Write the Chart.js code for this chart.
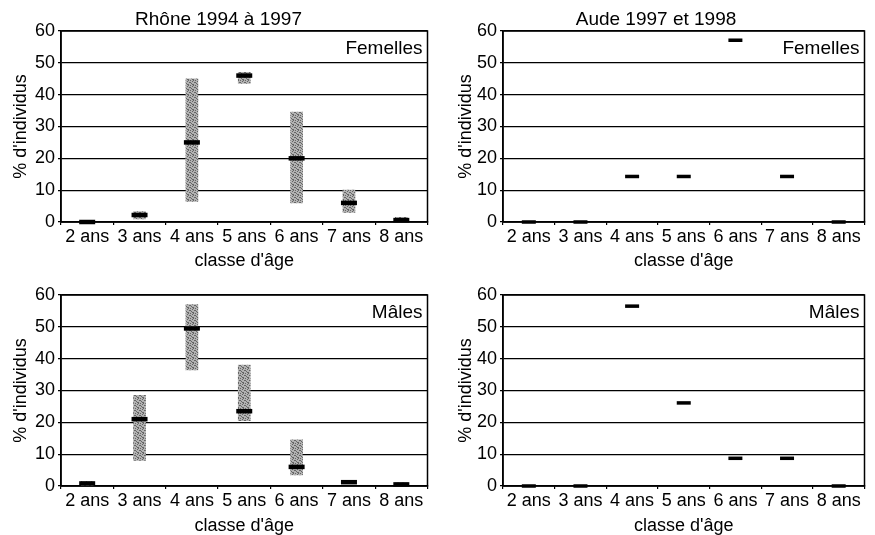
<!DOCTYPE html>
<html>
<head>
<meta charset="utf-8">
<script src="https://cdn.jsdelivr.net/npm/chart.js@4.4.1/dist/chart.umd.min.js"></script>
<style>
    html, body { margin: 0; padding: 0; background: #fff; }
    #wrap { position: relative; width: 875px; height: 535px; overflow: hidden; }
    canvas { position: absolute; }
</style>
</head>
<body>
<div id="wrap">
    <canvas id="rhoneFem" width="440" height="270" style="left:0;top:0"></canvas>
    <canvas id="audeFem" width="435" height="270" style="left:440px;top:0"></canvas>
    <canvas id="rhoneMal" width="440" height="267" style="left:0;top:268px"></canvas>
    <canvas id="audeMal" width="435" height="267" style="left:440px;top:268px"></canvas>
</div>
<script>
const AGES = ['2 ans', '3 ans', '4 ans', '5 ans', '6 ans', '7 ans', '8 ans'];
const Y_TICKS = [0, 10, 20, 30, 40, 50, 60];

// Rhône 1994 à 1997 : moyenne + étendue (min / max) par classe d'âge
const rhoneFemMean = [0, 2.2, 25, 46, 20, 6, 0.6];
const rhoneFemMin  = [0, 1, 6.5, 43.5, 6, 3, 0];
const rhoneFemMax  = [0, 3.3, 45, 47, 34.5, 10, 1.5];

const rhoneMalMean = [0.8, 21, 49.5, 23.5, 6, 1.2, 0.5];
const rhoneMalMin  = [0, 8, 36.5, 20.5, 3.5, 1.2, 0];
const rhoneMalMax  = [1.5, 28.5, 57, 38, 14.5, 1.2, 1];

// Aude 1997 et 1998 : valeurs seules
const audeFemMean = [0, 0, 14.3, 14.3, 57.1, 14.3, 0];
const audeMalMean = [0, 0, 56.5, 26.1, 8.7, 8.7, 0];

const FONT = '"Liberation Sans", Arial, sans-serif';

function stipple()
{
    const c = document.createElement('canvas');
    c.width = 5; c.height = 5;
    const g = c.getContext('2d');
    g.fillStyle = '#b2b2b2';
    g.fillRect(0, 0, 5, 5);
    g.fillStyle = '#666';
    [[0, 0], [2, 1], [4, 2], [1, 3], [3, 4], [3, 0], [0, 2], [2, 4]].forEach(([x, y]) => g.fillRect(x, y, 1, 1));
    return g.createPattern(c, 'repeat');
}

const frame = {
    id: 'frame',
    beforeDatasetsDraw(chart) {
        const { ctx, chartArea: a } = chart;
        ctx.save();
        ctx.strokeStyle = '#000';
        ctx.lineWidth = 1.5;
        ctx.strokeRect(a.left, a.top, a.right - a.left, a.bottom - a.top);
        ctx.restore();
    }
};

const sexLabel = {
    id: 'sexLabel',
    afterDraw(chart, args, opts) {
        const { ctx, chartArea: a } = chart;
        ctx.save();
        ctx.font = `19px ${FONT}`;
        ctx.fillStyle = '#000';
        ctx.textAlign = 'right';
        ctx.textBaseline = 'middle';
        ctx.fillText(opts.text, a.right - 5, a.top + 18);
        ctx.restore();
    }
};

function makeChart(id, cfg)
{
    const datasets = [{
        type: 'line',
        data: cfg.mean,
        showLine: false,
        pointStyle: 'line',
        pointRadius: cfg.dash,
        pointBorderWidth: cfg.dashWidth,
        pointBorderColor: '#000',
        borderColor: '#000',
        clip: false,
        order: 0
    }];

    if (cfg.min)
    {
        datasets.push({
            type: 'bar',
            data: cfg.min.map((v, i) => [v, cfg.max[i]]),
            backgroundColor: stipple(),
            borderWidth: 0,
            barThickness: 12,
            order: 1
        });
    }

    return new Chart(document.getElementById(id), {
        type: 'bar',
        data: { labels: AGES, datasets: datasets },
        plugins: [frame, sexLabel],
        options: {
            responsive: false,
            animation: false,
            layout: { padding: { top: cfg.padTop, right: 3, left: 0, bottom: 0 } },
            plugins: {
                legend: { display: false },
                tooltip: { enabled: false },
                title: {
                    display: !!cfg.title,
                    text: cfg.title,
                    color: '#000',
                    font: { family: FONT, size: 19, weight: 'normal', lineHeight: 1 },
                    padding: { top: 10, bottom: 2 }
                },
                sexLabel: { text: cfg.sex }
            },
            scales: {
                x: {
                    offset: true,
                    afterFit: s => { s.height = cfg.xHeight; },
                    grid: { offset: true, drawOnChartArea: false, color: '#000', tickLength: 3, lineWidth: 1.2 },
                    border: { color: '#000', width: 1.5 },
                    ticks: { color: '#000', font: { family: FONT, size: 18 }, padding: 1, maxRotation: 0, autoSkip: false },
                    title: {
                        display: true, text: "classe d'âge", color: '#000',
                        font: { family: FONT, size: 18, lineHeight: 1 }, padding: { top: 0, bottom: 0 }
                    }
                },
                y: {
                    min: 0,
                    max: 60,
                    afterFit: s => { s.width = cfg.yWidth; },
                    afterBuildTicks: s => { s.ticks = Y_TICKS.map(v => ({ value: v })); },
                    grid: { color: '#000', lineWidth: 1.3, tickLength: 3 },
                    border: { color: '#000', width: 1.5 },
                    ticks: { color: '#000', font: { family: FONT, size: 18 }, padding: 3 },
                    title: {
                        display: true, text: "% d'individus", color: '#000',
                        font: { family: FONT, size: 18, lineHeight: 1 }, padding: { top: cfg.yTitlePad, bottom: 0 }
                    }
                }
            }
        }
    });
}

makeChart('rhoneFem', {
    title: 'Rhône 1994 à 1997', sex: 'Femelles',
    mean: rhoneFemMean, min: rhoneFemMin, max: rhoneFemMax,
    dash: 8, dashWidth: 4.5, padTop: 0, xHeight: 48, yWidth: 61, yTitlePad: 12
});

makeChart('audeFem', {
    title: 'Aude 1997 et 1998', sex: 'Femelles',
    mean: audeFemMean,
    dash: 7, dashWidth: 3.5, padTop: 0, xHeight: 48, yWidth: 63, yTitlePad: 17
});

makeChart('rhoneMal', {
    title: '', sex: 'Mâles',
    mean: rhoneMalMean, min: rhoneMalMin, max: rhoneMalMax,
    dash: 8, dashWidth: 4.5, padTop: 27, xHeight: 49, yWidth: 61, yTitlePad: 12
});

makeChart('audeMal', {
    title: '', sex: 'Mâles',
    mean: audeMalMean,
    dash: 7, dashWidth: 3.5, padTop: 27, xHeight: 49, yWidth: 63, yTitlePad: 17
});
</script>
</body>
</html>
